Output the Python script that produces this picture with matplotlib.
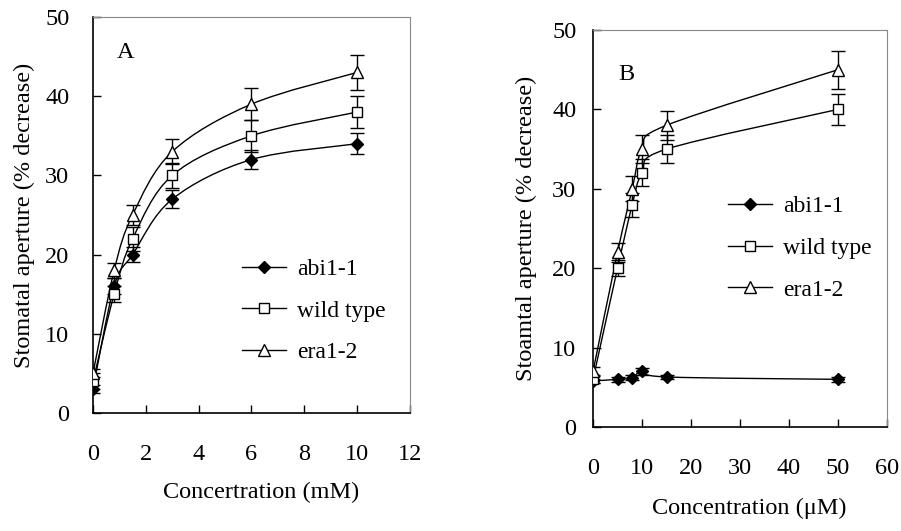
import numpy as np
import matplotlib
matplotlib.use("Agg")
import matplotlib.pyplot as plt
from matplotlib.path import Path
from matplotlib.patches import PathPatch
from matplotlib.lines import Line2D

plt.rcParams['font.family'] = ['Liberation Serif', 'DejaVu Serif']

# Panel A: ABA concentration (mM)
conc_a = [0, 0.8, 1.5, 3, 6, 10]
abi_a = [3, 16, 20, 27, 32, 34]
abi_a_err = [0.5, 1.0, 0.9, 1.1, 1.2, 1.3]
wt_a = [4, 15, 22, 30, 35, 38]
wt_a_err = [1.0, 1.0, 1.5, 1.6, 2.0, 2.0]
era_a = [5, 18, 25, 33, 39, 43]
era_a_err = [0.5, 1.0, 1.3, 1.6, 2.0, 2.2]

# Panel B: concentration (uM)
conc_b = [0, 5, 8, 10, 15, 50]
abi_b = [5.8, 6.0, 6.2, 7.0, 6.3, 6.0]
abi_b_err = [0.3, 0.3, 0.3, 0.4, 0.3, 0.3]
wt_b = [6, 20, 28, 32, 35, 40]
wt_b_err = [0.5, 1.0, 1.5, 1.7, 1.8, 2.0]
era_b = [7, 22, 30, 35, 38, 45]
era_b_err = [0.6, 1.2, 1.6, 1.8, 1.8, 2.4]

labels = ['abi1-1', 'wild type', 'era1-2']
markers = ['D', 's', '^']
faces = ['black', 'white', 'white']
msizes = [6, 7.5, 8.5]

FS = 17.5


def smooth_path(x, y):
    # Catmull-Rom style bezier through the points (like spreadsheet smoothing)
    pts = np.column_stack([x, y]).astype(float)
    n = len(pts)
    verts = [pts[0]]
    codes = [Path.MOVETO]
    for i in range(n - 1):
        p0 = pts[i - 1] if i > 0 else pts[i]
        p1 = pts[i]
        p2 = pts[i + 1]
        p3 = pts[i + 2] if i + 2 < n else pts[i + 1]
        c1 = p1 + (p2 - p0) / 6.0
        c2 = p2 - (p3 - p1) / 6.0
        verts += [c1, c2, p2]
        codes += [Path.CURVE4] * 3
    return Path(verts, codes)


def draw_panel(ax, x, series, errs, xmax, letter, letter_pos, xlabel, ylabel,
               xpad, ypad, leg_anchor):
    for y, e, m, fc, ms in zip(series, errs, markers, faces, msizes):
        ax.add_patch(PathPatch(smooth_path(x, y), fill=False, lw=1.0,
                               edgecolor='black', zorder=2))
        ax.errorbar(x, y, yerr=e, fmt='none', ecolor='black', elinewidth=1.0,
                    capsize=5, capthick=1.0, zorder=3)
        ax.plot(x, y, linestyle='none', marker=m, markersize=ms,
                markerfacecolor=fc, markeredgecolor='black',
                markeredgewidth=1.0, zorder=4)

    ax.set_xlim(0, xmax)
    ax.set_ylim(0, 50)
    ax.set_yticks(range(0, 51, 10))
    ax.tick_params(direction='in', length=6, width=1.0, labelsize=FS)
    ax.tick_params(axis='x', pad=xpad)
    ax.tick_params(axis='y', pad=ypad)
    for side in ['top', 'right']:
        ax.spines[side].set_color('#888888')
    for side in ['left', 'bottom']:
        ax.spines[side].set_linewidth(1.2)

    ax.text(letter_pos[0], letter_pos[1], letter, transform=ax.transAxes,
            fontsize=FS, va='center', ha='left')
    ax.set_xlabel(xlabel, fontsize=FS)
    ax.set_ylabel(ylabel, fontsize=FS)

    handles = [Line2D([], [], color='black', lw=1.0, marker=m, markersize=ms,
                      markerfacecolor=fc, markeredgecolor='black')
               for m, fc, ms in zip(markers, faces, msizes)]
    ax.legend(handles, labels, loc='upper left', bbox_to_anchor=leg_anchor,
              frameon=False, fontsize=17, handlelength=1.86,
              handletextpad=0.47, labelspacing=0.85, borderpad=0,
              borderaxespad=0)


fig = plt.figure(figsize=(9.01, 5.31), dpi=100)
ax_a = fig.add_axes([0.1032, 0.2222, 0.3518, 0.7458])
ax_b = fig.add_axes([0.6582, 0.1959, 0.3263, 0.7476])

draw_panel(ax_a, conc_a, [abi_a, wt_a, era_a], [abi_a_err, wt_a_err, era_a_err],
           12, 'A', (0.075, 0.91), 'Concertration (mM)',
           'Stomatal aperture (% decrease)', 22, 17, (0.47, 0.39))
draw_panel(ax_b, conc_b, [abi_b, wt_b, era_b], [abi_b_err, wt_b_err, era_b_err],
           60, 'B', (0.085, 0.887), 'Concentration (\u03bcM)',
           'Stoamtal aperture (% decrease)', 22, 12, (0.46, 0.582))

ax_a.set_xticks(range(0, 13, 2))
ax_b.set_xticks(range(0, 61, 10))
ax_a.xaxis.set_label_coords(0.53, -0.174)
ax_b.xaxis.set_label_coords(0.53, -0.179)
ax_a.yaxis.set_label_coords(-0.183, 0.5)
ax_b.yaxis.set_label_coords(-0.19, 0.5)

fig.savefig('out.png', dpi=100)
